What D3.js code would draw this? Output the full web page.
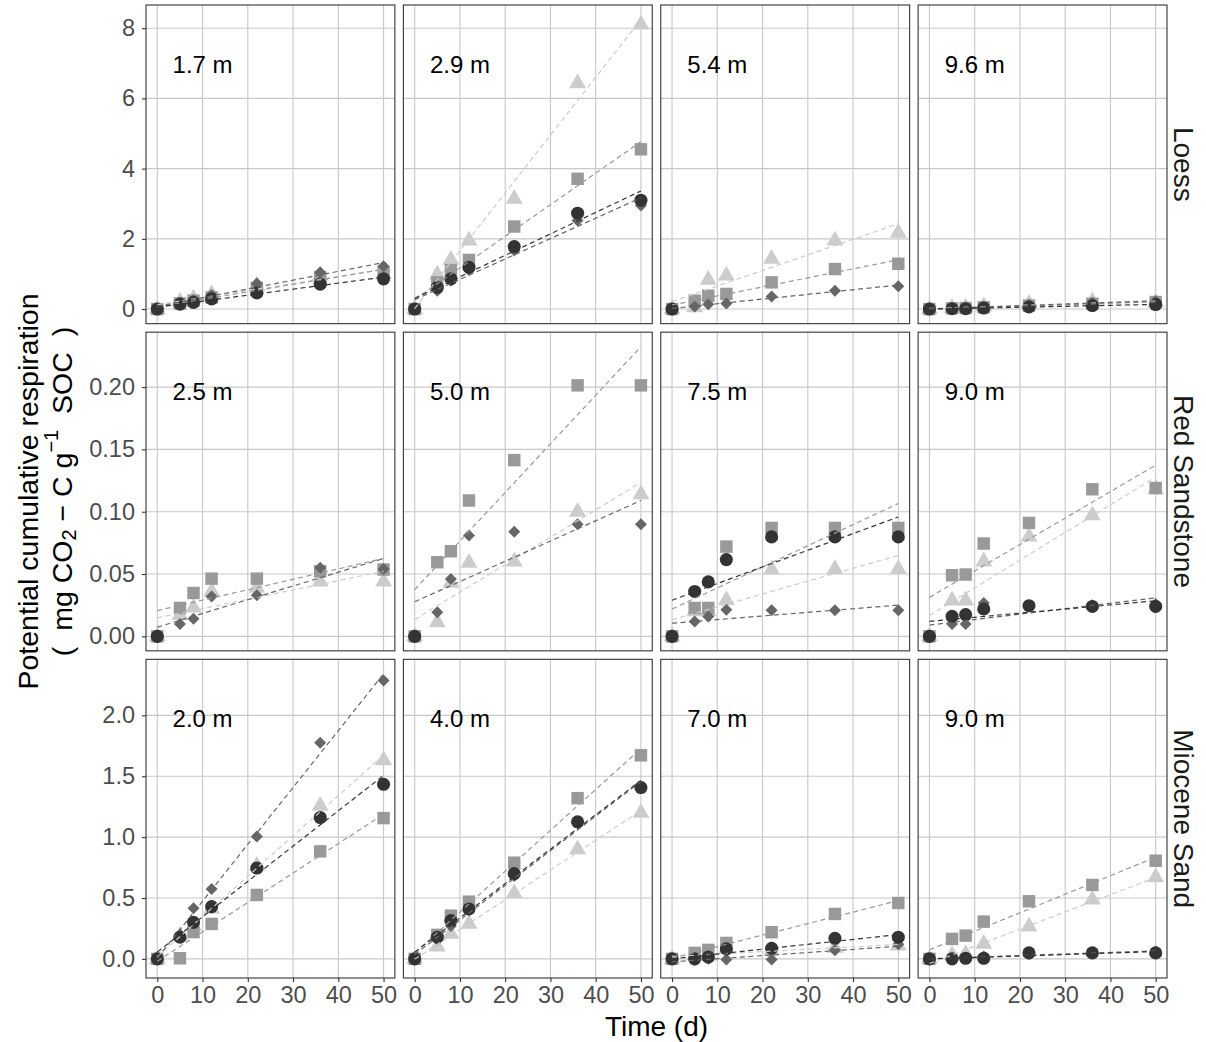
<!DOCTYPE html>
<html><head><meta charset="utf-8">
<script src="https://cdn.jsdelivr.net/npm/d3@7"></script>
<style>body{margin:0;background:#fff}text{font-family:"Liberation Sans",Arial,sans-serif}</style>
</head><body><svg id="c" width="1206" height="1042"></svg>
<script>
const times=[0,5,8,12,22,36,50];
const formations=["Loess","Red Sandstone","Miocene Sand"];
const depthLabels=[["1.7 m","2.9 m","5.4 m","9.6 m"],["2.5 m","5.0 m","7.5 m","9.0 m"],["2.0 m","4.0 m","7.0 m","9.0 m"]];
const xTicks=[0,10,20,30,40,50];
const yTicks=[[0,2,4,6,8],[0,0.05,0.10,0.15,0.20],[0,0.5,1.0,1.5,2.0]];
const yTickLabels=[["0","2","4","6","8"],["0.00","0.05","0.10","0.15","0.20"],["0.0","0.5","1.0","1.5","2.0"]];
const N=null;
// panel order: row by row (Loess 4, Red Sandstone 4, Miocene Sand 4)
const triangleSeries=[
 [0,0.21,0.3,0.43,0.67,0.95,1.0],
 [0,0.98,1.4,1.95,3.14,6.43,8.1],
 [0,0.05,0.83,0.95,1.43,1.95,2.17],
 [0,0.03,0.04,0.08,0.15,0.22,0.2],
 [0,0.017,0.023,0.036,0.039,0.044,0.044],
 [0,0.0113,0.043,0.059,0.060,0.100,0.114],
 [0,0.02,0.02,0.029,0.0536,0.054,0.054],
 [0,0.0287,0.0287,0.060,0.080,0.097,0.118],
 [0,0.19,0.27,0.41,0.765,1.257,1.631],
 [0,0.10,0.205,0.287,0.538,0.90,1.20],
 [0,0.027,0.027,0.08,0.068,0.09,0.11],
 [0,0.03,0.04,0.123,0.265,0.486,0.669]];
const squareSeries=[
 [0,0.16,0.24,0.33,0.6,0.9,1.05],
 [0,0.76,1.11,1.4,2.35,3.71,4.55],
 [0,0.24,0.38,0.43,0.76,1.14,1.29],
 [0,0.02,0.03,0.05,0.1,0.15,0.2],
 [0,0.0228,0.0348,0.0463,0.0463,0.0522,0.0536],
 [0,0.0595,0.0683,0.109,0.1414,0.2014,0.2014],
 [0,0.0228,0.0228,0.072,0.087,0.087,0.087],
 [0,0.049,0.0496,0.0745,0.091,0.118,0.119],
 [0,0.005,0.22,0.287,0.525,0.883,1.156],
 [0,0.197,0.355,0.47,0.79,1.32,1.672],
 [0,0.049,0.074,0.131,0.219,0.369,0.459],
 [0,0.164,0.191,0.306,0.473,0.607,0.806]];
const diamondSeries=[
 [0,0.19,0.25,0.4,0.73,1.05,1.22],
 [0,0.52,0.81,1.11,1.67,2.52,2.95],
 [0,0.07,0.14,0.16,0.36,0.52,0.65],
 [0,0.02,0.03,0.06,0.12,0.18,0.22],
 [0,0.0099,0.0142,0.032,0.033,0.055,0.054],
 [0,0.0193,0.046,0.081,0.084,0.09,0.09],
 [0,0.012,0.016,0.0214,0.021,0.021,0.021],
 [0,0.0099,0.0099,0.0268,0.024,0.025,0.026],
 [0,0.2,0.415,0.574,1.005,1.776,2.287],
 [0,0.16,0.27,0.40,0.68,1.12,1.40],
 [0,-0.01,0,-0.005,-0.005,0.07,0.12],
 [0,0,0.01,0.02,0.04,0.05,0.06]];
const circleSeries=[
 [0,0.14,0.19,0.29,0.46,0.71,0.86],
 [0,0.62,0.86,1.19,1.78,2.73,3.1],
 [0,N,N,N,N,N,N],
 [0,0.01,0.01,0.03,0.06,0.1,0.13],
 [0,N,N,N,N,N,N],
 [0,N,N,N,N,N,N],
 [0,0.036,0.0437,0.0616,0.0798,0.0798,0.0798],
 [0,0.016,0.0174,0.022,0.0246,0.024,0.024],
 [0,0.178,0.30,0.429,0.746,1.161,1.434],
 [0,0.178,0.314,0.41,0.70,1.126,1.407],
 [0,0,0.014,0.082,0.087,0.169,0.178],
 [0,0,0.005,0.005,0.049,0.049,0.049]];

const seriesDefs=[
 {name:"triangle",data:triangleSeries,color:"#cccccc",sym:d3.symbolTriangle,size:125,rot:0},
 {name:"square",data:squareSeries,color:"#999999",sym:d3.symbolSquare,size:155,rot:0},
 {name:"diamond",data:diamondSeries,color:"#666666",sym:d3.symbolSquare,size:72,rot:45},
 {name:"circle",data:circleSeries,color:"#333333",sym:d3.symbolCircle,size:135,rot:0}];

const svg=d3.select("#c");
const L=146,R=1167,T=5,B=978,gap=8.5;
const pw=(R-L-3*gap)/4, ph=(B-T-2*gap)/3;
const x=d3.scaleLinear().domain([-2.5,52.5]).range([0,pw]);

function fit(ys){
  const pts=times.map((t,i)=>[t,ys[i]]).filter(d=>d[1]!=null);
  if(pts.length<2) return null;
  const mx=d3.mean(pts,d=>d[0]), my=d3.mean(pts,d=>d[1]);
  let sxy=0,sxx=0; pts.forEach(d=>{sxy+=(d[0]-mx)*(d[1]-my);sxx+=(d[0]-mx)**2;});
  const b=sxy/sxx, a=my-b*mx;
  const x0=d3.min(pts,d=>d[0]), x1=d3.max(pts,d=>d[0]);
  return [[x0,a+b*x0],[x1,a+b*x1]];
}

for(let r=0;r<3;r++){
  let vals=[];
  for(let c=0;c<4;c++){const p=r*4+c;
    seriesDefs.forEach(s=>{s.data[p].forEach(v=>{if(v!=null)vals.push(v);}); const f=fit(s.data[p]); if(f){vals.push(f[0][1],f[1][1]);}});}
  const mn=d3.min(vals), mx=d3.max(vals), ex=(mx-mn)*0.05;
  const y=d3.scaleLinear().domain([mn-ex,mx+ex]).range([ph,0]);
  const py=T+r*(ph+gap);
  for(let c=0;c<4;c++){
    const p=r*4+c;
    const px=L+c*(pw+gap);
    const g=svg.append("g").attr("transform",`translate(${px},${py})`);
    g.append("rect").attr("width",pw).attr("height",ph).attr("fill","#fff");
    const grid=g.append("g");
    grid.selectAll("line.v").data(xTicks).join("line").attr("x1",d=>x(d)).attr("x2",d=>x(d)).attr("y1",0).attr("y2",ph).attr("stroke","#c8c8c8").attr("stroke-width",1.1);
    grid.selectAll("line.h").data(yTicks[r]).join("line").attr("y1",d=>y(d)).attr("y2",d=>y(d)).attr("x1",0).attr("x2",pw).attr("stroke","#c8c8c8").attr("stroke-width",1.1);
    seriesDefs.forEach(s=>{
      const pts=times.map((t,i)=>[t,s.data[p][i]]).filter(d=>d[1]!=null);
      g.selectAll(null).data(pts).join("path")
        .attr("d",d3.symbol().type(s.sym).size(s.size))
        .attr("transform",d=>`translate(${x(d[0])},${y(d[1])}) rotate(${s.rot})`)
        .attr("fill",s.color);
    });
    seriesDefs.forEach(s=>{
      const f=fit(s.data[p]); if(!f) return;
      g.append("line").attr("x1",x(f[0][0])).attr("y1",y(f[0][1])).attr("x2",x(f[1][0])).attr("y2",y(f[1][1]))
        .attr("stroke",s.color).attr("stroke-width",1.2).attr("stroke-dasharray","5,3.5");
    });
    g.append("text").attr("x",x(10)).attr("y",59).attr("text-anchor","middle").attr("dominant-baseline","central")
      .attr("font-size",24).attr("fill","#000").text(depthLabels[r][c]);
    g.append("rect").attr("width",pw).attr("height",ph).attr("fill","none").attr("stroke","#333").attr("stroke-width",1.1);
    if(c===0){
      const ax=g.append("g").call(d3.axisLeft(y).tickValues(yTicks[r]).tickFormat((d,i)=>yTickLabels[r][i]).tickSize(4).tickPadding(7));
      ax.select(".domain").remove();
      ax.selectAll(".tick line").attr("stroke","#333").attr("stroke-width",1.1);
      ax.selectAll("text").attr("font-size",23.5).attr("fill","#4d4d4d").style("font-family","Liberation Sans, Arial, sans-serif");
    }
    if(r===2){
      const ax=g.append("g").attr("transform",`translate(0,${ph})`).call(d3.axisBottom(x).tickValues(xTicks).tickFormat(d3.format("d")).tickSize(4).tickPadding(4));
      ax.select(".domain").remove();
      ax.selectAll(".tick line").attr("stroke","#333").attr("stroke-width",1.1);
      ax.selectAll("text").attr("font-size",23.5).attr("fill","#4d4d4d").style("font-family","Liberation Sans, Arial, sans-serif");
    }
  }
  svg.append("text").attr("transform",`translate(${R+16},${py+ph/2}) rotate(90)`).attr("text-anchor","middle")
    .attr("dominant-baseline","central").attr("font-size",28).attr("fill","#1a1a1a").text(formations[r]);
}
svg.append("text").attr("x",(L+R)/2).attr("y",1026).attr("text-anchor","middle").attr("dominant-baseline","central")
  .attr("font-size",28).attr("fill","#000").text("Time (d)");
const yt=svg.append("g").attr("transform",`translate(0,${(T+B)/2})`);
yt.append("text").attr("transform","translate(28,0) rotate(-90)").attr("text-anchor","middle").attr("dominant-baseline","central")
  .attr("font-size",28.5).attr("fill","#000").text("Potential cumulative respiration");
const t2=yt.append("text").attr("transform","translate(62,0) rotate(-90)").attr("text-anchor","middle").attr("dominant-baseline","central")
  .attr("font-size",28.5).attr("fill","#000").attr("xml:space","preserve");
t2.append("tspan").text("(  mg CO");
t2.append("tspan").attr("font-size",20).attr("dy",7).text("2");
t2.append("tspan").attr("dy",-7).text(" \u2212 C g");
t2.append("tspan").attr("font-size",20).attr("dy",-11).text("\u22121");
t2.append("tspan").attr("dy",11).text("  SOC  )");
</script></body></html>
